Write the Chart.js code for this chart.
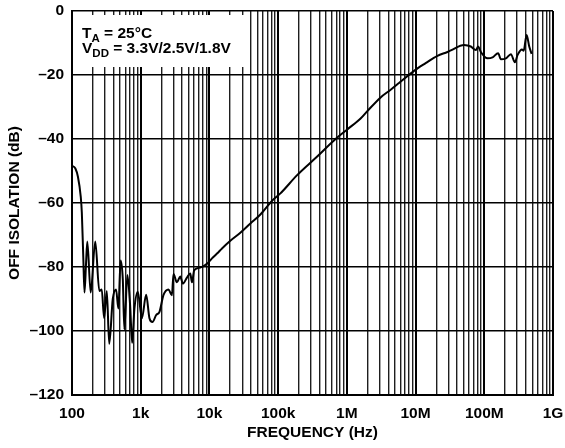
<!DOCTYPE html>
<html>
<head>
<meta charset="utf-8">
<script src="https://cdn.jsdelivr.net/npm/chart.js@4"></script>
<style>
  html, body { margin: 0; padding: 0; background: #fff; }
  #wrap { width: 565px; height: 448px; }
</style>
</head>
<body>
<div id="wrap"><canvas id="c" width="565" height="448"></canvas></div>
<script>
// Off isolation vs. frequency
const freqHz = [
  100, 112, 122, 134, 139, 146, 152, 160, 167, 187, 218, 250, 271, 293, 321, 348,
  392, 438, 473, 510, 549, 578, 640, 701, 750, 810, 908, 1039, 1200, 1340, 1483,
  1679, 1876, 2146, 2537, 2844, 3000, 3365, 3758, 4115, 4707, 5262, 5570, 6012,
  7357, 9205, 10890, 12880, 15240, 20140, 28180, 39430, 55190, 81700, 107900,
  189000, 370000, 684000, 1014000, 1585000, 1985000, 3100000, 4340000, 5740000,
  9500000, 14000000, 20800000, 29100000, 32600000, 50900000, 63700000, 75400000,
  81400000, 89100000, 111600000, 132000000, 159000000, 174500000, 206500000,
  244000000, 279000000, 305700000, 353000000, 374000000, 413000000, 451000000,
  489000000
];
const offIsolationDb = [
  -48.4, -49.2, -51.8, -58, -63, -77, -88, -79, -72, -88, -72, -87.5, -87, -96,
  -87.5, -104, -90, -87, -93, -78, -84, -99.5, -82.5, -92, -103.7, -93, -87.7,
  -96, -88.7, -96, -97.2, -95, -94, -88.7, -87, -88.8, -82.2, -84.8, -83, -85.2,
  -83.3, -82, -84.8, -81, -80.2, -79, -77.3, -75.8, -74.2, -71.8, -69.3, -66.4,
  -63.6, -59.3, -57, -51.3, -45.5, -40, -37, -33.6, -31.3, -27, -24.6, -22.5,
  -18.7, -16.3, -14, -12.8, -12.3, -10.6, -11.1, -12.2, -11.1, -12.8, -14.8,
  -14.5, -13.2, -15.1, -14.8, -13.5, -16, -13.7, -12, -12.4, -7.5, -11.1, -13.4
];

// Axis ticks
const xDecadeValues = [1e2, 1e3, 1e4, 1e5, 1e6, 1e7, 1e8, 1e9];
const xDecadeLabels = ['100', '1k', '10k', '100k', '1M', '10M', '100M', '1G'];
const yTickValues = [0, -20, -40, -60, -80, -100, -120];
const yTickLabels = ['0', '\u201320', '\u201340', '\u201360', '\u201380', '\u2013100', '\u2013120'];

const FONT = "'Liberation Sans', Arial, Helvetica, sans-serif";

const isDecade = v => xDecadeValues.some(d => Math.abs(v - d) / d < 1e-9);

// Labels may hang past the plot edges; the outer padding alone sets the plot frame.
const noLabelPadding = s => {
  s.paddingTop = 0; s.paddingBottom = 0; s.paddingLeft = 0; s.paddingRight = 0;
};

// White annotation box with the test conditions
const conditionsBox = {
  id: 'conditionsBox',
  afterDatasetsDraw(chart) {
    const ctx = chart.ctx;
    const area = chart.chartArea;
    ctx.save();
    ctx.fillStyle = '#fff';
    ctx.fillRect(area.left + 1, area.top + 4, 172, 52);
    ctx.fillStyle = '#000';
    ctx.textBaseline = 'alphabetic';
    const big = 'bold 15.5px ' + FONT;
    const small = 'bold 11.5px ' + FONT;
    const drawRuns = (x, y, runs) => {
      for (const [txt, sub] of runs) {
        ctx.font = sub ? small : big;
        ctx.fillText(txt, x, sub ? y + 4 : y);
        x += ctx.measureText(txt).width;
      }
    };
    const x0 = area.left + 10;
    drawRuns(x0, area.top + 26.5, [['T', false], ['A', true], [' = 25\u00B0C', false]]);
    drawRuns(x0, area.top + 41.5, [['V', false], ['DD', true], [' = 3.3V/2.5V/1.8V', false]]);
    ctx.restore();
  }
};

new Chart(document.getElementById('c'), {
  type: 'line',
  data: {
    datasets: [{
      data: freqHz.map((f, i) => ({ x: f, y: offIsolationDb[i] })),
      borderColor: '#000',
      borderWidth: 2,
      pointRadius: 0,
      fill: false,
      cubicInterpolationMode: 'monotone'
    }]
  },
  options: {
    responsive: false,
    animation: false,
    devicePixelRatio: 1,
    layout: { padding: { top: 11, right: 12, left: 0, bottom: 0 } },
    plugins: { legend: { display: false }, tooltip: { enabled: false } },
    scales: {
      x: {
        type: 'logarithmic',
        min: 100,
        max: 1e9,
        afterFit(s) { s.height = 53; noLabelPadding(s); },
        afterBuildTicks(s) {
          const t = [];
          for (let e = 2; e <= 8; e++) {
            for (let m = 1; m <= 9; m++) t.push({ value: m * Math.pow(10, e) });
          }
          t.push({ value: 1e9 });
          s.ticks = t;
        },
        grid: {
          drawTicks: false,
          color: ctx => isDecade(ctx.tick.value) ? '#000' : '#1e1e1e',
          lineWidth: ctx => isDecade(ctx.tick.value) ? 2 : 1.4
        },
        border: { display: true, color: '#000', width: 2 },
        ticks: {
          autoSkip: false,
          maxRotation: 0,
          padding: 9,
          color: '#000',
          font: { family: FONT, size: 15.5, weight: 'bold' },
          callback(v) {
            const i = xDecadeValues.findIndex(d => Math.abs(v - d) / d < 1e-9);
            return i >= 0 ? xDecadeLabels[i] : '';
          }
        },
        title: {
          display: true,
          text: 'FREQUENCY (Hz)',
          color: '#000',
          font: { family: FONT, size: 15.5, weight: 'bold' },
          padding: { top: 0, bottom: 6 }
        }
      },
      y: {
        min: -120,
        max: 0,
        afterFit(s) { s.width = 72; noLabelPadding(s); },
        afterBuildTicks(s) { s.ticks = yTickValues.map(v => ({ value: v })); },
        grid: { drawTicks: false, color: '#000', lineWidth: 1.6 },
        border: { display: true, color: '#000', width: 2 },
        ticks: {
          padding: 8,
          color: '#000',
          font: { family: FONT, size: 15.5, weight: 'bold' },
          callback(v) {
            const i = yTickValues.indexOf(v);
            return i >= 0 ? yTickLabels[i] : '';
          }
        },
        title: {
          display: true,
          text: 'OFF ISOLATION (dB)',
          color: '#000',
          font: { family: FONT, size: 15.5, weight: 'bold' },
          padding: { top: 5, bottom: 0 }
        }
      }
    }
  },
  plugins: [conditionsBox]
});
</script>
</body>
</html>
